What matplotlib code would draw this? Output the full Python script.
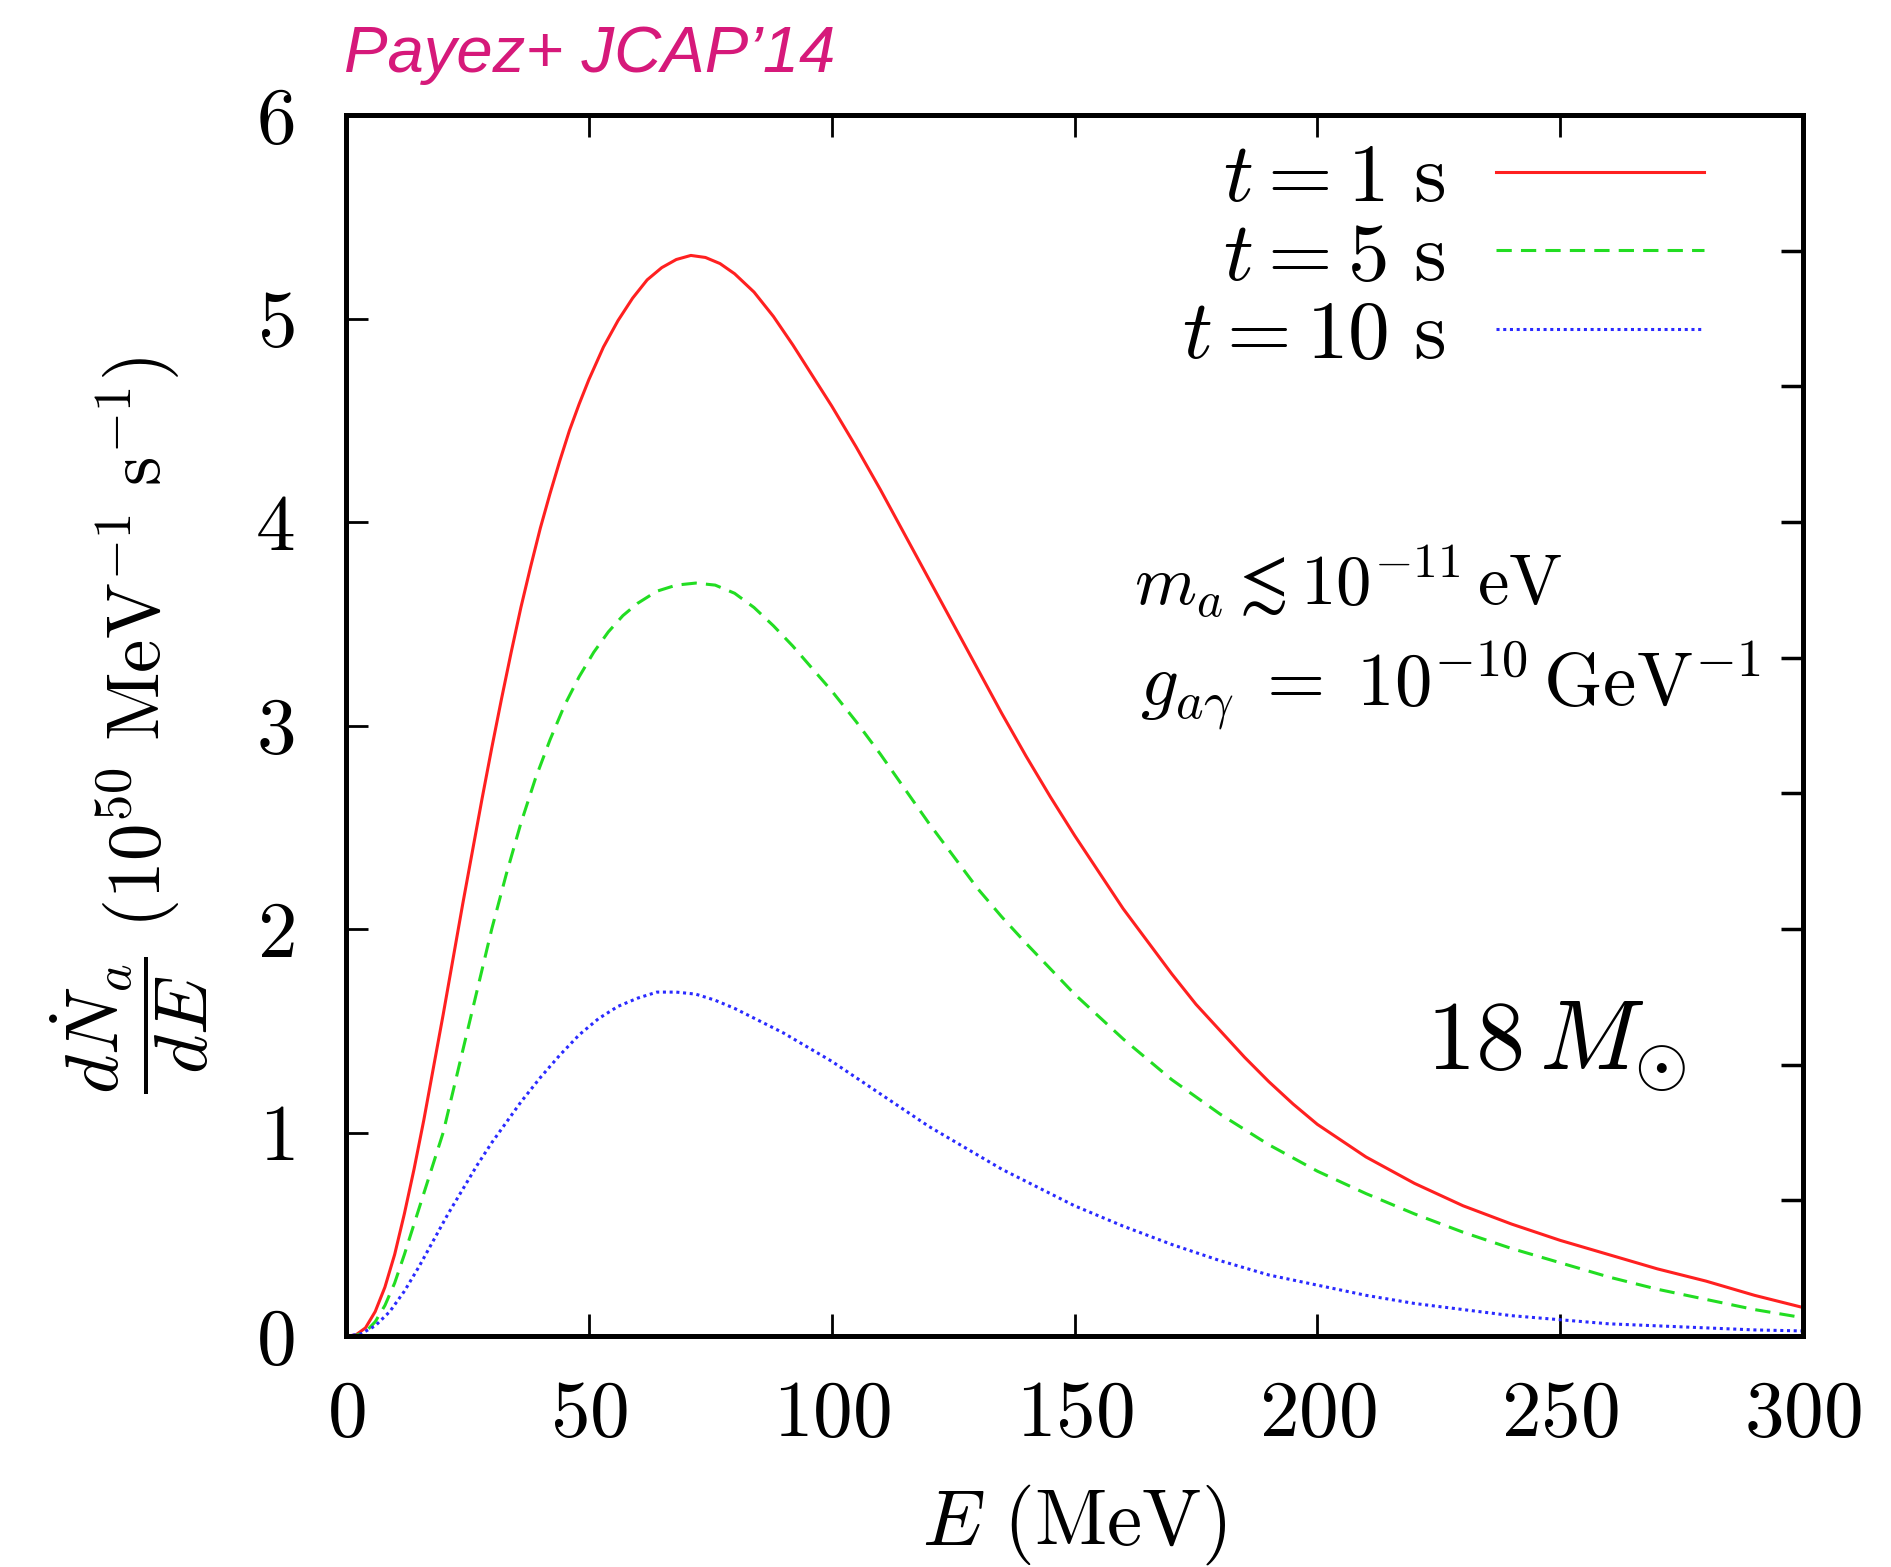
import numpy as np
import matplotlib
matplotlib.use("Agg")
from matplotlib import pyplot as plt

plt.rcParams['mathtext.fontset'] = 'cm'
plt.rcParams['font.family'] = 'serif'
plt.rcParams['font.serif'] = ['cmr10', 'DejaVu Serif']
plt.rcParams['axes.unicode_minus'] = False

# values (E in MeV, dN/dE in 1e50 / MeV / s)
E_1s = [0, 2, 4, 6, 8, 10, 12, 14, 16, 18, 20, 22, 24, 26, 28, 30, 32, 34, 36, 38, 40,
        42, 44, 46, 48, 50, 53, 56, 59, 62, 65, 68, 71, 74, 77, 80, 84, 88, 92, 96,
        100, 105, 110, 115, 120, 125, 130, 135, 140, 145, 150, 155, 160, 165, 170, 175,
        180, 185, 190, 195, 200, 210, 220, 230, 240, 250, 260, 270, 280, 290, 300]
N_1s = [0, 0.005, 0.04, 0.12, 0.24, 0.4, 0.6, 0.82, 1.06, 1.32, 1.58, 1.85, 2.12, 2.38, 2.64, 2.89, 3.13, 3.36, 3.58, 3.78, 3.97,
        4.14, 4.3, 4.45, 4.58, 4.70, 4.86, 4.99, 5.1, 5.19, 5.25, 5.29, 5.31, 5.30, 5.27, 5.22, 5.13, 5.01, 4.87, 4.72,
        4.57, 4.37, 4.16, 3.94, 3.72, 3.5, 3.28, 3.06, 2.85, 2.65, 2.46, 2.28, 2.1, 1.94, 1.78, 1.63,
        1.5, 1.37, 1.25, 1.14, 1.04, 0.88, 0.75, 0.64, 0.55, 0.47, 0.4, 0.33, 0.27, 0.2, 0.14]

E_5s = [0, 2, 4, 6, 8, 10, 12, 14, 16, 18, 20, 22, 24, 26, 28, 30, 33, 36, 39, 42, 45,
        48, 51, 54, 57, 60, 64, 68, 72, 76, 80, 84, 88, 92, 96, 100, 105, 110, 115, 120,
        125, 130, 135, 140, 150, 160, 170, 180, 190, 200, 210, 220,
        230, 240, 250, 260, 270, 280, 290, 300]
N_5s = [0, 0.003, 0.02, 0.07, 0.15, 0.26, 0.4, 0.55, 0.7, 0.85, 1.0, 1.2, 1.4, 1.6, 1.8, 2.0, 2.27, 2.52, 2.74, 2.93, 3.1,
        3.24, 3.36, 3.46, 3.54, 3.6, 3.66, 3.69, 3.70, 3.69, 3.65, 3.58, 3.49, 3.39, 3.28, 3.17, 3.02, 2.86, 2.69, 2.52,
        2.36, 2.2, 2.06, 1.93, 1.68, 1.46, 1.26, 1.09, 0.94, 0.81, 0.7, 0.6,
        0.51, 0.43, 0.36, 0.29, 0.23, 0.18, 0.13, 0.09]

E_10s = [0, 3, 6, 9, 12, 15, 18, 21, 24, 27, 30, 33, 36, 40, 44, 48, 52, 56, 60, 64, 68,
         72, 76, 80, 85, 90, 95, 100, 105, 110, 115, 120, 125, 130, 135, 140, 145, 150,
         160, 170, 180, 190, 200, 210, 220, 230, 240, 250, 260, 270, 280, 290, 300]
N_10s = [0, 0.01, 0.05, 0.12, 0.22, 0.34, 0.47, 0.6, 0.72, 0.84, 0.95, 1.05, 1.15, 1.27, 1.38, 1.48, 1.56, 1.62, 1.66, 1.69, 1.69,
         1.68, 1.65, 1.61, 1.55, 1.49, 1.42, 1.35, 1.27, 1.19, 1.11, 1.03, 0.96, 0.89, 0.82, 0.76, 0.7, 0.64,
         0.54, 0.45, 0.37, 0.3, 0.25, 0.2, 0.16, 0.13, 0.1, 0.08, 0.06, 0.05, 0.04, 0.03, 0.025]

labels = [r'$t = 1\ \mathrm{s}$', r'$t = 5\ \mathrm{s}$', r'$t = 10\ \mathrm{s}$']
xticks = [0, 50, 100, 150, 200, 250, 300]
yticks = [0, 1, 2, 3, 4, 5, 6]

fig = plt.figure(figsize=(18.91, 15.67), dpi=100)
ax = fig.add_axes([0.183, 0.1474, 0.7705, 0.7792])

ax.plot(E_1s, N_1s, color='#ff2020', lw=2.2, label=labels[0])
ax.plot(E_5s, N_5s, color='#22dd22', lw=2.2, ls=(0, (5, 3)), label=labels[1])
ax.plot(E_10s, N_10s, color='#2a2aff', lw=2.2, ls=(0, (1, 1.2)), label=labels[2])

ax.set_xlim(0, 300)
ax.set_ylim(0, 6)
ax.set_xticks(xticks)
ax.set_xticklabels(['$%d$' % v for v in xticks])
ax.set_yticks(yticks)
ax.set_yticklabels(['$%d$' % v for v in yticks])
ax.tick_params(axis='both', direction='in', length=16, width=2, labelsize=57,
               top=True, right=False)
ax.tick_params(axis='y', pad=37)
ax.tick_params(axis='x', pad=32)
for s in ax.spines.values():
    s.set_linewidth(3.5)

# right side ticks (second scale, unlabeled)
ax2 = ax.twinx()
ax2.set_ylim(0, 9)
ax2.set_yticks(range(10))
ax2.tick_params(axis='y', direction='in', length=16, width=2.5, labelright=False)
for s in ax2.spines.values():
    s.set_linewidth(3.5)

ax.set_xlabel(r'$E\ (\mathrm{MeV})$', fontsize=57, labelpad=22)
ax.set_ylabel(r'$\dfrac{d\dot{N}_a}{dE}\ (10^{50}\ \mathrm{MeV}^{-1}\ \mathrm{s}^{-1})$',
              fontsize=54, labelpad=32)

ax.legend(loc='upper right', bbox_to_anchor=(0.972, 1.025), frameon=False, fontsize=60,
          markerfirst=False, handlelength=2.5, handletextpad=0.6, labelspacing=0.05,
          borderpad=0.2)

ax.text(0.541, 0.598, r'$m_a \lesssim 10^{-11}\,\mathrm{eV}$', transform=ax.transAxes, fontsize=51)
ax.text(0.545, 0.516, r'$g_{a\gamma}\;=\;10^{-10}\,\mathrm{GeV}^{-1}$', transform=ax.transAxes, fontsize=54)
ax.text(0.741, 0.218, r'$18\,M_{\odot}$', transform=ax.transAxes, fontsize=71)

fig.text(0.182, 0.954, u'Payez+ JCAP\u201914', color='#d6197a', fontsize=47,
         family='Liberation Sans', style='italic')

fig.savefig('out.png', dpi=100)
